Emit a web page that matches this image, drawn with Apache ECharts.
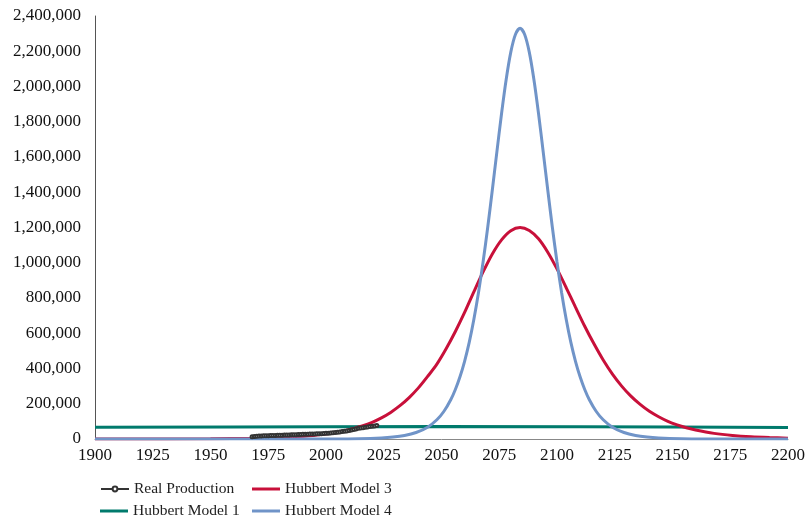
<!DOCTYPE html>
<html>
<head>
<meta charset="utf-8">
<script src="https://cdn.jsdelivr.net/npm/echarts@6/dist/echarts.min.js"></script>
<style>html,body{margin:0;padding:0;background:#fff}#c{width:808px;height:521px}</style>
</head>
<body>
<div id="c"></div>
<script>
// ---- data ----
const realYears = [1968,1969,1970,1971,1972,1973,1974,1975,1976,1977,1978,1979,1980,1981,1982,1983,1984,1985,1986,1987,1988,1989,1990,1991,1992,1993,1994,1995,1996,1997,1998,1999,2000,2001,2002,2003,2004,2005,2006,2007,2008,2009,2010,2011,2012,2013,2014,2015,2016,2017,2018,2019,2020,2021,2022];
const realValues = [13000,14500,16000,16500,17500,17800,18500,18800,19500,19800,20500,21000,21200,21800,22300,22600,23200,23800,24100,24700,25200,25600,26300,26600,27200,27700,28300,28600,29300,29900,30400,31200,32100,33200,34000,35600,37000,38600,40100,42200,44000,45800,48300,51000,54200,57100,60300,62000,64500,66200,68400,70300,72100,74200,76500];

const m3Years = [1900,1950,1968,1980,1988,1996,2004,2008,2012,2016,2020,2024,2028,2032,2036,2040,2044,2048,2052,2056,2060,2064,2068,2072,2076,2080,2084,2088,2092,2096,2100,2104,2108,2112,2116,2120,2124,2128,2132,2136,2140,2144,2148,2152,2156,2160,2168,2176,2184,2192,2200];
const m3Values = [100,1400,4200,8800,14200,23000,37000,47000,60000,75000,95000,120000,151000,189000,235000,290000,355000,425000,512000,610000,718000,835000,948000,1050000,1130000,1182000,1200000,1183000,1136000,1060000,965000,858000,748000,640000,540000,448000,368000,300000,243000,196000,157000,126000,100000,80000,64000,51000,32000,20000,12500,8000,4800];

const m1Years = [1900,1960,2000,2050,2110,2150,2200];
const m1Values = [66000,68000,69500,70500,70000,68000,65000];

const m4Years = [1900,2004,2014,2024,2029,2034,2039,2044,2048,2051,2054,2056,2058,2060,2062,2064,2066,2068,2070,2072,2074,2076,2078,2080,2082,2084,2086,2088,2090,2092,2094,2096,2098,2100,2102,2104,2106,2108,2110,2112,2114,2117,2120,2124,2129,2134,2139,2144,2154,2164,2200];
const m4Values = [0,500,1700,5900,10800,20000,37000,67000,109000,156000,223000,281000,353000,441000,548000,678000,830000,1004000,1200000,1413000,1632000,1847000,2040000,2195000,2295000,2330000,2295000,2195000,2040000,1847000,1632000,1413000,1200000,1004000,830000,678000,548000,441000,353000,281000,223000,156000,109000,67000,37000,20000,10800,5900,1700,500,0];

const xTicks = {min: 1900, max: 2200, interval: 25};
const yTicks = {min: 0, max: 2400000, interval: 200000};

function pairs(xs, ys) { return xs.map((x, i) => [x, ys[i]]); }

const FONT = 'Liberation Serif';
const legendText = {fontFamily: FONT, fontSize: 15.5, color: '#222'};
function lineLegend(name, left, top) {
  return {data: [{name: name, icon: 'rect'}], left: left, top: top, itemWidth: 28, itemHeight: 3,
          textStyle: legendText, padding: 0};
}
const chart = echarts.init(document.getElementById('c'));
chart.setOption({
  animation: false,
  backgroundColor: '#fff',
  textStyle: {fontFamily: FONT},
  grid: {left: 95, right: 19, top: 16, bottom: 82},
  xAxis: {
    type: 'value', min: xTicks.min, max: xTicks.max, interval: xTicks.interval,
    splitLine: {show: false},
    axisLine: {show: true, lineStyle: {color: '#888', width: 1}},
    axisTick: {show: false},
    axisLabel: {fontFamily: FONT, fontSize: 17, color: '#111', margin: 8, formatter: v => String(v)}
  },
  yAxis: {
    type: 'value', min: yTicks.min, max: yTicks.max, interval: yTicks.interval,
    splitLine: {show: false},
    axisLine: {show: true, lineStyle: {color: '#555', width: 1}},
    axisTick: {show: false},
    axisLabel: {fontFamily: FONT, fontSize: 17, color: '#111', margin: 14,
      formatter: v => Number(v).toLocaleString('en-US')}
  },
  legend: [
    {data: ['Real Production'], left: 100, top: 481, itemWidth: 28, itemHeight: 6,
     textStyle: legendText, padding: 0},
    lineLegend('Hubbert Model 1', 100, 503),
    lineLegend('Hubbert Model 3', 252, 481),
    lineLegend('Hubbert Model 4', 252, 503)
  ],
  series: [
    {name: 'Real Production', type: 'line', data: pairs(realYears, realValues),
     symbol: 'emptyCircle', symbolSize: 3, z: 5,
     itemStyle: {color: '#333', borderWidth: 1}, lineStyle: {color: '#333', width: 1}},
    {name: 'Hubbert Model 3', type: 'line', data: pairs(m3Years, m3Values),
     symbol: 'none', smooth: 0.3, z: 3,
     itemStyle: {color: '#C8103A'}, lineStyle: {color: '#C8103A', width: 3}},
    {name: 'Hubbert Model 1', type: 'line', data: pairs(m1Years, m1Values),
     symbol: 'none', z: 2,
     itemStyle: {color: '#007A6C'}, lineStyle: {color: '#007A6C', width: 3}},
    {name: 'Hubbert Model 4', type: 'line', data: pairs(m4Years, m4Values),
     symbol: 'none', smooth: 0.3, z: 4,
     itemStyle: {color: '#7094C8'}, lineStyle: {color: '#7094C8', width: 3}}
  ]
});
</script>
</body>
</html>
